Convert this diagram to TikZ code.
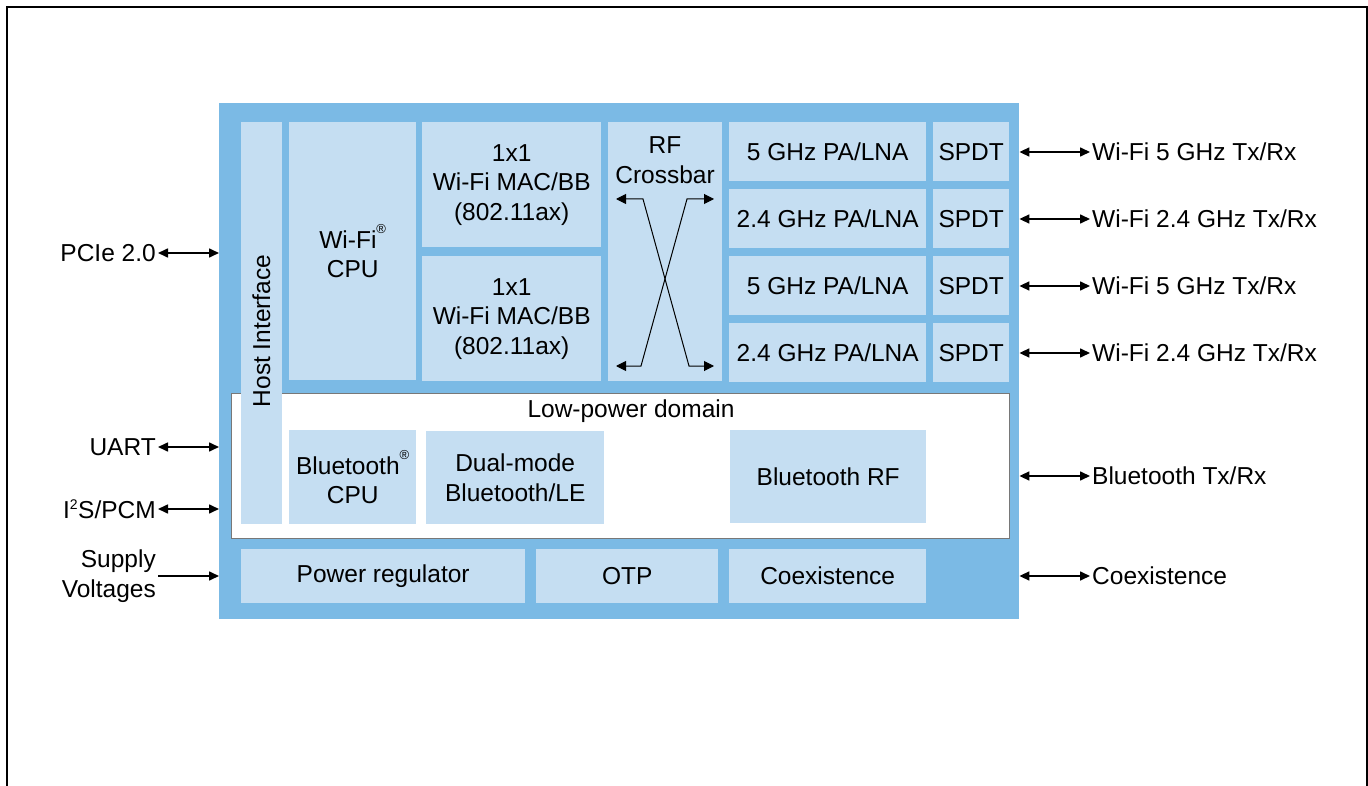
\documentclass[tikz,border=0pt]{standalone}
\usepackage{fontspec}
\setmainfont{Liberation Sans}
\usetikzlibrary{arrows.meta}
\definecolor{outerblue}{RGB}{123,186,229}
\definecolor{innerblue}{RGB}{197,222,242}
\definecolor{lpborder}{RGB}{120,120,120}
\newcommand{\regmark}{\raisebox{0.6em}{\fontsize{13}{13}\selectfont ®}}
\begin{document}
\begin{tikzpicture}[x=1pt,y=-1pt,
  every node/.style={font=\fontsize{24.5}{29.5}\selectfont, text=black},
  chipbox/.style={fill=outerblue, draw=none, anchor=north west, inner sep=0pt},
  blk/.style={fill=innerblue, draw=none, anchor=north west, inner sep=0pt, align=center},
  lpbox/.style={fill=white, draw=lpborder, line width=1pt, anchor=north west, inner sep=0pt},
  lbl/.style={inner sep=2pt, align=center},
  biarrow/.style={line width=1.6pt, {Triangle[length=10pt,width=9pt]}-{Triangle[length=10pt,width=9pt]}},
  oneway/.style={line width=1.6pt, -{Triangle[length=10pt,width=9pt]}},
  xarrow/.style={line width=1pt, {Triangle[length=10pt,width=10pt]}-{Triangle[length=10pt,width=10pt]}}
]
\useasboundingbox (0,0) rectangle (1368,786);
\fill[white] (0,0) rectangle (1368,786);
% outer frame
\draw[line width=2.4pt] (7.2,800) -- (7.2,7.2) -- (1366.8,7.2) -- (1366.8,800);

% chip
\node[chipbox, minimum width=800pt, minimum height=516pt] (chip) at (219,103) {};

% top Wi-Fi area
\node[blk, minimum width=41pt, minimum height=402pt] (host) at (241,122) {};
\node[blk, minimum width=127pt, minimum height=258pt] (wcpu) at (289,122) {Wi-Fi\regmark\\CPU};
\node[blk, minimum width=179pt, minimum height=125pt] (mac1) at (422,122) {1x1\\Wi-Fi MAC/BB\\(802.11ax)};
\node[blk, minimum width=179pt, minimum height=125pt] (mac2) at (422,256) {1x1\\Wi-Fi MAC/BB\\(802.11ax)};
\node[blk, minimum width=114pt, minimum height=259pt] (xbar) at (608,122) {};
\node[lbl, anchor=north] (xbarlbl) at (665,134) {RF\\[1pt]Crossbar};

\node[blk, minimum width=197pt, minimum height=59pt] (pa1) at (729,122) {5 GHz PA/LNA};
\node[blk, minimum width=197pt, minimum height=59pt] (pa2) at (729,189) {2.4 GHz PA/LNA};
\node[blk, minimum width=197pt, minimum height=59pt] (pa3) at (729,256) {5 GHz PA/LNA};
\node[blk, minimum width=197pt, minimum height=59pt] (pa4) at (729,323) {2.4 GHz PA/LNA};
\node[blk, minimum width=76pt, minimum height=59pt] (sw1) at (933,122) {SPDT};
\node[blk, minimum width=76pt, minimum height=59pt] (sw2) at (933,189) {SPDT};
\node[blk, minimum width=76pt, minimum height=59pt] (sw3) at (933,256) {SPDT};
\node[blk, minimum width=76pt, minimum height=59pt] (sw4) at (933,323) {SPDT};

% crossbar arrows
\draw[xarrow] (616,199) -- (643,199) -- (689,366) -- (714,366);
\draw[xarrow] (714,199) -- (687,199) -- (641,366) -- (616,366);

% low-power domain
\node[lpbox, minimum width=778pt, minimum height=145pt] (lp) at (231,393) {};
\node[lbl] (lplbl) at (631,411) {Low-power domain};
% host interface drawn over low-power box
\fill[innerblue] (241,392) rectangle (282,524);
\node[lbl, rotate=90] (hostlbl) at (261.5,331) {Host Interface};

\node[blk, minimum width=127pt, minimum height=94pt] (btcpu) at (289,430) {Bluetooth\regmark\\CPU};
\node[blk, minimum width=178pt, minimum height=93pt] (dual) at (426,431) {Dual-mode\\Bluetooth/LE};
\node[blk, minimum width=196pt, minimum height=93pt] (btrf) at (730,430) {Bluetooth RF};

% bottom row
\node[blk, minimum width=284pt, minimum height=54pt] (pwr) at (241,549) {Power regulator};
\node[blk, minimum width=182pt, minimum height=54pt] (otp) at (536,549) {OTP};
\node[blk, minimum width=197pt, minimum height=54pt] (coexb) at (729,549) {Coexistence};

% left labels
\node[lbl, anchor=east] (pcie) at (158,253) {PCIe 2.0};
\node[lbl, anchor=east] (uart) at (158,447) {UART};
\node[lbl, anchor=east] (i2s) at (158,509) {I\textsuperscript{\fontsize{14}{14}\selectfont 2}S/PCM};
\node[lbl, anchor=east, align=right] (supply) at (158,576) {Supply\\Voltages};

\draw[biarrow] (pcie.east) -- (pcie.east -| chip.west);
\draw[biarrow] (uart.east) -- (uart.east -| chip.west);
\draw[biarrow] (i2s.east) -- (i2s.east -| chip.west);
\draw[oneway] (supply.east) -- (supply.east -| chip.west);

% right labels
\node[lbl, anchor=west] (r1) at (1090,152) {Wi-Fi 5 GHz Tx/Rx};
\node[lbl, anchor=west] (r2) at (1090,219) {Wi-Fi 2.4 GHz Tx/Rx};
\node[lbl, anchor=west] (r3) at (1090,286) {Wi-Fi 5 GHz Tx/Rx};
\node[lbl, anchor=west] (r4) at (1090,353) {Wi-Fi 2.4 GHz Tx/Rx};
\node[lbl, anchor=west] (r5) at (1090,476) {Bluetooth Tx/Rx};
\node[lbl, anchor=west] (r6) at (1090,576) {Coexistence};

\draw[biarrow] (r1.west -| chip.east) -- (r1.west);
\draw[biarrow] (r2.west -| chip.east) -- (r2.west);
\draw[biarrow] (r3.west -| chip.east) -- (r3.west);
\draw[biarrow] (r4.west -| chip.east) -- (r4.west);
\draw[biarrow] (r5.west -| chip.east) -- (r5.west);
\draw[biarrow] (r6.west -| chip.east) -- (r6.west);
\end{tikzpicture}
\end{document}
